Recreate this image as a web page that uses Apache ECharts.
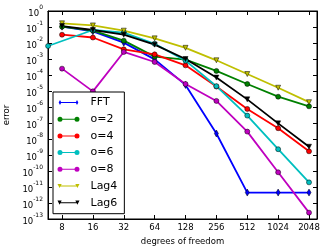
<!DOCTYPE html>
<html>
<head>
<meta charset="utf-8">
<script src="https://cdn.jsdelivr.net/npm/echarts@6/dist/echarts.min.js"></script>
<style>html,body{margin:0;padding:0;background:#fff;}#c{width:327px;height:252px;}</style>
</head>
<body>
<div id="c"></div>
<script>
// ---- data ----
const dof = [8, 16, 32, 64, 128, 256, 512, 1024, 2048];
const dofO6 = [5.85, 16, 32, 64, 128, 256, 512, 1024, 2048];
const errFFT = [1.05e-1, 5.4e-2, 1.05e-2, 9.5e-4, 2.4e-5, 2.2e-8, 4.5e-12, 4.5e-12, 4.5e-12];
const errO2  = [1.05e-1, 5.9e-2, 1.4e-2, 1.4e-3, 9.1e-4, 1.8e-4, 2.75e-5, 4.4e-6, 1.1e-6];
const errO4  = [3.3e-2, 2.2e-2, 4.0e-3, 1.95e-3, 4.0e-4, 1.9e-5, 7.6e-7, 4.7e-8, 1.7e-9];
const errO6  = [6.5e-3, 6.5e-2, 4.5e-2, 8.9e-3, 7.9e-4, 2.0e-5, 2.9e-7, 2.3e-9, 1.95e-11];
const errO8  = [2.5e-4, 9.5e-6, 2.75e-3, 6.5e-4, 2.75e-5, 2.4e-6, 2.9e-8, 8.3e-11, 2.5e-13];
const errLag4 = [1.7e-1, 1.26e-1, 5.9e-2, 1.95e-2, 5.0e-3, 8.3e-4, 1.15e-4, 1.6e-5, 2.0e-6];
const errLag6 = [1.15e-1, 6.5e-2, 3.3e-2, 7.9e-3, 1.0e-3, 6.9e-5, 3.0e-6, 9.5e-8, 3.3e-9];
const seriesNames = ['FFT', 'o=2', 'o=4', 'o=6', 'o=8', 'Lag4', 'Lag6'];
const xTickLabels = ['8', '16', '32', '64', '128', '256', '512', '1024', '2048'];

const FONT = 'DejaVu Sans';
// x axis is logarithmic base 2: data placed on a value axis in log2 units
const lx = v => Math.log2(v);
const zip = (xs, ys) => xs.map((x, i) => [lx(x), ys[i]]);
const xTickPos = dof.map(lx);
const diamond = 'path://M0,-10 L6,0 L0,10 L-6,0 Z';
const tri = 'path://M-10,-8 L10,-8 L0,10 Z';
// legend icons: a line with a marker at each end
const icoCircle = 'path://M0,25 A25,25 0 1 1 50,25 A25,25 0 1 1 0,25 Z M40,20 L180,20 L180,30 L40,30 Z M170,25 A25,25 0 1 1 220,25 A25,25 0 1 1 170,25 Z';
const icoDiamond = 'path://M25,0 L38,25 L25,50 L12,25 Z M30,20 L190,20 L190,30 L30,30 Z M195,0 L208,25 L195,50 L182,25 Z';
const icoTri = 'path://M5,5 L45,5 L25,45 Z M30,20 L190,20 L190,30 L30,30 Z M175,5 L215,5 L195,45 Z';

function mk(name, xs, ys, color, symbol, size) {
  return {
    name, type: 'line', data: zip(xs, ys),
    symbol, symbolSize: size,
    lineStyle: { color, width: 1.8 },
    itemStyle: { color, borderColor: '#000', borderWidth: 0.5 },
    showAllSymbol: true, clip: true, animation: false
  };
}

const series = [
  mk(seriesNames[0], dof, errFFT, '#0000ff', diamond, [4, 7]),
  mk(seriesNames[1], dof, errO2, '#008000', 'circle', 5),
  mk(seriesNames[2], dof, errO4, '#ff0000', 'circle', 5),
  mk(seriesNames[3], dofO6, errO6, '#00bfbf', 'circle', 5),
  mk(seriesNames[4], dof, errO8, '#bf00bf', 'circle', 5),
  mk(seriesNames[5], dof, errLag4, '#bfbf00', tri, 5),
  mk(seriesNames[6], dof, errLag6, '#000000', tri, 5)
];
const icons = [icoDiamond, icoCircle, icoCircle, icoCircle, icoCircle, icoTri, icoTri];

const tickStyle = { show: true, inside: true, length: 4, lineStyle: { color: '#000', width: 1 } };
const lineStyleAx = { show: true, lineStyle: { color: '#000', width: 1 } };
const xMin = lx(5.84), xMax = lx(2450);

const chart = echarts.init(document.getElementById('c'), null, { renderer: 'canvas' });
chart.setOption({
  animation: false,
  backgroundColor: '#fff',
  grid: { left: 48, right: 10, top: 11, height: 208, containLabel: false, outerBoundsMode: 'none',
          show: true, borderColor: '#000', borderWidth: 1 },
  legend: {
    orient: 'vertical', left: 53, top: 92,
    backgroundColor: '#fff', borderColor: '#000', borderWidth: 1, borderRadius: 0,
    padding: [4.5, 7, 5, 4.5],
    itemWidth: 22, itemHeight: 5, itemGap: 4.7, symbolKeepAspect: true,
    itemStyle: { borderWidth: 0 },
    textStyle: { fontFamily: FONT, fontSize: 11, color: '#000', lineHeight: 12, padding: [0, 0, 0, 6] },
    data: seriesNames.map((n, i) => ({ name: n, icon: icons[i] }))
  },
  xAxis: [
    {
      type: 'value', min: xMin, max: xMax,
      name: 'degrees of freedom', nameLocation: 'middle', nameGap: 18,
      nameTextStyle: { fontFamily: FONT, fontSize: 8.5, color: '#000' },
      axisLine: lineStyleAx, splitLine: { show: false },
      axisTick: Object.assign({ customValues: xTickPos }, tickStyle),
      axisLabel: { fontFamily: FONT, fontSize: 8.5, color: '#000', margin: 4,
        customValues: xTickPos,
        formatter: v => xTickLabels[Math.round(v) - 3] }
    },
    {
      type: 'value', min: xMin, max: xMax, position: 'top',
      axisLine: lineStyleAx, splitLine: { show: false },
      axisTick: Object.assign({ customValues: xTickPos }, tickStyle),
      axisLabel: { show: false }
    }
  ],
  yAxis: [
    {
      type: 'log', logBase: 10, min: 1e-13, max: 1, interval: 1,
      name: 'error', nameLocation: 'middle', nameGap: 37,
      nameTextStyle: { fontFamily: FONT, fontSize: 8.5, color: '#000' },
      axisLine: lineStyleAx, splitLine: { show: false }, axisTick: tickStyle,
      axisLabel: { fontFamily: FONT, color: '#000', margin: 5,
        formatter: v => { const e = Math.round(Math.log10(v)); return '{a|10}{b|' + (e < 0 ? '-' : '') + Math.abs(e) + '}'; },
        rich: {
          a: { fontFamily: FONT, fontSize: 8.5, color: '#000', lineHeight: 14, verticalAlign: 'bottom' },
          b: { fontFamily: FONT, fontSize: 6, color: '#000', lineHeight: 14, verticalAlign: 'top' }
        } }
    },
    {
      type: 'log', logBase: 10, min: 1e-13, max: 1, interval: 1, position: 'right',
      axisLine: lineStyleAx, splitLine: { show: false }, axisTick: tickStyle,
      axisLabel: { show: false }
    }
  ],
  series
});
</script>
</body>
</html>
